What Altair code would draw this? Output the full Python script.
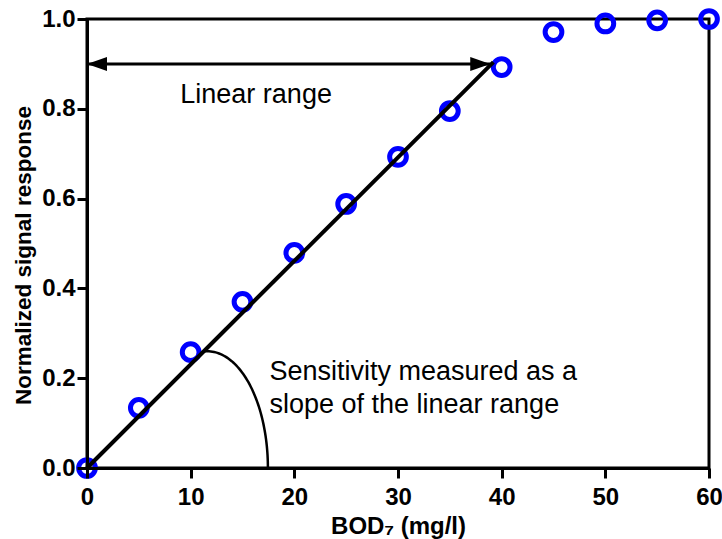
import numpy as np
import pandas as pd
import altair as alt

# ---- data ----
bod_x = [0, 5, 10, 15, 20, 25, 30, 35, 40, 45, 50, 55, 60]
signal_y = [0.0, 0.134, 0.258, 0.370, 0.479, 0.588, 0.693, 0.795, 0.893,
            0.971, 0.990, 0.997, 1.0]

fit_x = [0.0, 39.2]
fit_y = [0.0, 0.904]

arrow_x = [0.0, 38.9]
arrow_y = [0.9, 0.9]

# ellipse arc marking the slope angle (centre, radii in data units)
arc_cx, arc_rx, arc_ry = 11.6, 5.85, 0.26
arc_deg_start, arc_deg_end = 93, 0

label_linear = ["Linear range"]
label_linear_x = [9.0]
label_linear_y = [0.814]

label_sens = ["Sensitivity measured as a", "slope of the linear range"]
label_sens_x = [17.6, 17.6]
label_sens_y = [0.197, 0.122]

x_ticks = [0, 10, 20, 30, 40, 50, 60]
y_ticks = [0.0, 0.2, 0.4, 0.6, 0.8, 1.0]

FONT = "Liberation Sans"

pts = pd.DataFrame({"x": bod_x, "y": signal_y})
fit = pd.DataFrame({"x": fit_x, "y": fit_y})
arrow = pd.DataFrame({"x": [arrow_x[0]], "x2": [arrow_x[1]], "y": [arrow_y[0]]})
heads = pd.DataFrame({"x": arrow_x, "y": arrow_y,
                      "side": ["left", "right"]})
theta = np.radians(np.linspace(arc_deg_start, arc_deg_end, 60))
arc = pd.DataFrame({"x": arc_cx + arc_rx * np.cos(theta),
                    "y": arc_ry * np.sin(theta),
                    "o": np.arange(len(theta))})
t1 = pd.DataFrame({"x": label_linear_x, "y": label_linear_y, "t": label_linear})
t2 = pd.DataFrame({"x": label_sens_x, "y": label_sens_y, "t": label_sens})

xscale = alt.Scale(domain=[0, 60], nice=False, zero=False)
yscale = alt.Scale(domain=[0, 1], nice=False, zero=False)

xaxis = alt.Axis(values=x_ticks, title="BOD₇ (mg/l)", grid=False,
                 tickSize=10, tickWidth=3, tickColor="black",
                 domainColor="black", domainWidth=3,
                 labelFont=FONT, labelFontSize=24, labelFontWeight="bold",
                 labelColor="black", labelPadding=7, labelFlush=False,
                 titleFont=FONT, titleFontSize=24, titleFontWeight="bold",
                 titleColor="black", titleBaseline="alphabetic", titleY=65,
                 zindex=1)
yaxis = alt.Axis(values=y_ticks, format=".1f", title="Normalized signal response",
                 grid=False, tickSize=10, tickWidth=3, tickColor="black",
                 domainColor="black", domainWidth=3,
                 labelFont=FONT, labelFontSize=24, labelFontWeight="bold",
                 labelColor="black", labelPadding=2, labelFlush=False,
                 titleFont=FONT, titleFontSize=22.5, titleFontWeight="bold",
                 titleColor="black", titleBaseline="alphabetic", titleX=-57,
                 titleY=236, zindex=1)

base_x = alt.X("x:Q", scale=xscale, axis=xaxis)
base_y = alt.Y("y:Q", scale=yscale, axis=yaxis)

points = alt.Chart(pts).mark_point(
    shape="circle", filled=False, color="#0000FF", strokeWidth=5,
    size=280, opacity=1, clip=False
).encode(x=base_x, y=base_y)

fit_line = alt.Chart(fit).mark_line(color="black", strokeWidth=4).encode(
    x=alt.X("x:Q", scale=xscale), y=alt.Y("y:Q", scale=yscale))

arc_line = alt.Chart(arc).mark_line(color="black", strokeWidth=2.5).encode(
    x=alt.X("x:Q", scale=xscale), y=alt.Y("y:Q", scale=yscale),
    order="o:Q")

arrow_rule = alt.Chart(arrow).mark_rule(color="black", strokeWidth=3).encode(
    x=alt.X("x:Q", scale=xscale), x2="x2:Q", y=alt.Y("y:Q", scale=yscale))

head_l = alt.Chart(heads[heads.side == "left"]).mark_point(
    shape="M0,0 L2,-0.7 L2,0.7 Z", filled=True, color="black", size=400,
    opacity=1, strokeWidth=0
).encode(x=alt.X("x:Q", scale=xscale), y=alt.Y("y:Q", scale=yscale))
head_r = alt.Chart(heads[heads.side == "right"]).mark_point(
    shape="M0,0 L-2,-0.7 L-2,0.7 Z", filled=True, color="black", size=400,
    opacity=1, strokeWidth=0
).encode(x=alt.X("x:Q", scale=xscale), y=alt.Y("y:Q", scale=yscale))

txt1 = alt.Chart(t1).mark_text(
    align="left", baseline="alphabetic", font=FONT, fontSize=27, color="black"
).encode(x=alt.X("x:Q", scale=xscale), y=alt.Y("y:Q", scale=yscale), text="t:N")
txt2 = alt.Chart(t2).mark_text(
    align="left", baseline="alphabetic", font=FONT, fontSize=27, color="black"
).encode(x=alt.X("x:Q", scale=xscale), y=alt.Y("y:Q", scale=yscale), text="t:N")

chart = alt.layer(points, fit_line, arc_line, arrow_rule, head_l, head_r,
                  txt1, txt2).properties(
    width=622, height=449,
    padding={"left": 87, "top": 19, "right": 13, "bottom": 71},
    autosize="none", background="white"
).configure_view(stroke="black", strokeWidth=3)

chart.save("out.html", embed_options={"renderer": "svg", "actions": False})
